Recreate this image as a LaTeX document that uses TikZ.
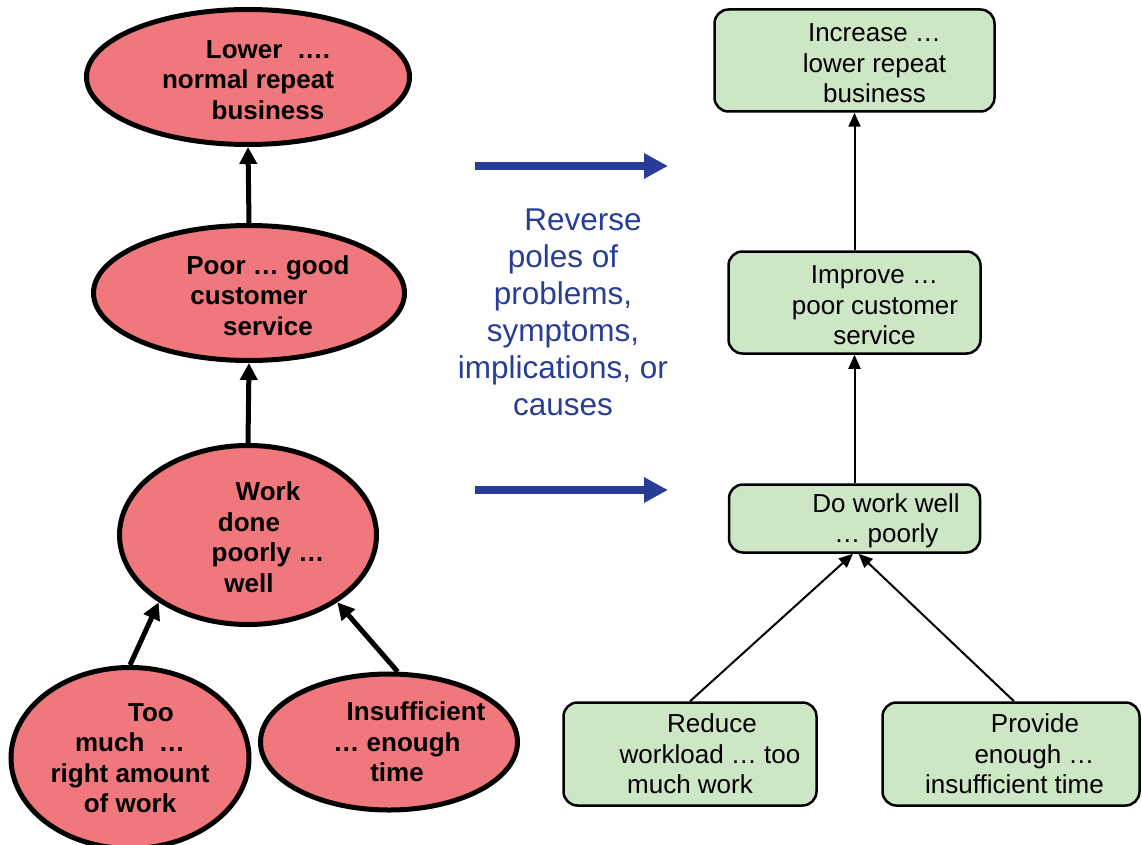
\documentclass[tikz,border=0pt]{standalone}
\usepackage{fontspec}
\setmainfont{Liberation Sans}
\usetikzlibrary{shapes.geometric,arrows.meta}
\definecolor{salmon}{RGB}{240,120,125}
\definecolor{mint}{RGB}{205,230,197}
\definecolor{revblue}{RGB}{40,62,150}
\newcommand{\sh}[2]{\makebox[0pt]{\hspace*{#1}#2}}
\newcommand{\lo}{\rule{0pt}{23.5pt}}
\begin{document}
\begin{tikzpicture}[x=1pt,y=-1pt,
  problem/.style={ellipse, draw=black, line width=5pt, fill=salmon, inner sep=0pt, align=center,
    font=\fontsize{26pt}{30.5pt}\selectfont\bfseries},
  goal/.style={rectangle, rounded corners=14pt, draw=black, line width=2.5pt, fill=mint, inner sep=0pt,
    align=center, font=\fontsize{26pt}{30.5pt}\selectfont},
  thickarr/.style={line width=5pt, -{Triangle[length=17pt,width=17pt]}},
  thinarr/.style={line width=2pt, -{Triangle[length=14pt,width=12pt]}},
  bluearr/.style={draw=revblue, line width=8pt, -{Triangle[length=24pt,width=24pt]}}
]
\useasboundingbox (0,0) rectangle (1142,845);

% left: problem ellipses
\node[problem, minimum width=323pt, minimum height=135pt] (E1) at (248,77)
  {\sh{40pt}{\lo Lower\ \ ….}\\ \sh{0pt}{normal repeat}\\ \sh{40pt}{business}};
\node[problem, minimum width=311pt, minimum height=135pt] (E2) at (249,293)
  {\sh{38pt}{\lo Poor … good}\\ \sh{0pt}{customer}\\ \sh{38pt}{service}};
\node[problem, minimum width=257pt, minimum height=179pt] (E3) at (248,535)
  {\sh{40pt}{\lo Work}\\ \sh{2pt}{done}\\ \sh{40pt}{poorly …}\\ \sh{2pt}{well}};
\node[problem, minimum width=238pt, minimum height=181pt] (E4) at (130,758)
  {\sh{42pt}{Too}\\ \sh{0pt}{much\ \ …}\\ \sh{0pt}{right amount}\\ \sh{0pt}{of work}};
\node[problem, minimum width=257pt, minimum height=136pt] (E5) at (389,742)
  {\sh{54pt}{Insufficient}\\ \sh{16pt}{… enough}\\ \sh{16pt}{time}};

\draw[thickarr] (E2.north) -- (E1.south);
\draw[thickarr] (E3.north) -- (E2.south);
\draw[thickarr] (E4.north) -- (E3.217);
\draw[thickarr] (E5.83) -- (E3.323);

% middle: blue text and arrows
\node[align=center, text=revblue, font=\fontsize{31.5pt}{37pt}\selectfont] (rev) at (563,312)
  {\sh{40pt}{Reverse}\\ \sh{0pt}{poles of}\\ \sh{0pt}{problems,}\\ \sh{0pt}{symptoms,}\\
   \sh{0pt}{implications, or}\\ \sh{0pt}{causes}};
\coordinate (t1) at (475,166);
\coordinate (t2) at (668,166);
\coordinate (b1) at (475,490);
\coordinate (b2) at (668,490);
\draw[bluearr] (t1) -- (t2);
\draw[bluearr] (b1) -- (b2);

% right: goal boxes
\node[goal, minimum width=280pt, minimum height=102pt] (B1) at (854.5,60.5)
  {\sh{40pt}{\lo Increase …}\\ \sh{40pt}{lower repeat}\\ \sh{40pt}{business}};
\node[goal, minimum width=252pt, minimum height=102pt] (B2) at (854.5,302.5)
  {\sh{40pt}{\lo Improve …}\\ \sh{41pt}{poor customer}\\ \sh{40pt}{service}};
\node[goal, minimum width=251pt, minimum height=68pt] (B3) at (854.5,518.5)
  {\sh{63pt}{\lo Do work well}\\ \sh{64pt}{… poorly}};
\node[goal, minimum width=253pt, minimum height=103pt] (B4) at (690,754)
  {\sh{44pt}{Reduce}\\ \sh{40pt}{workload … too}\\ \sh{0pt}{much work}};
\node[goal, minimum width=257pt, minimum height=103pt] (B5) at (1011,754)
  {\sh{48pt}{Provide}\\ \sh{47pt}{enough …}\\ \sh{7pt}{insufficient time}};

\draw[thinarr] (B2.north) -- (B1.south);
\draw[thinarr] (B3.north) -- (B2.south);
\draw[thinarr] (B4.north) -- ([xshift=-1.5pt]B3.south);
\draw[thinarr] ([xshift=3pt]B5.north) -- ([xshift=4pt]B3.south);
\end{tikzpicture}
\end{document}
